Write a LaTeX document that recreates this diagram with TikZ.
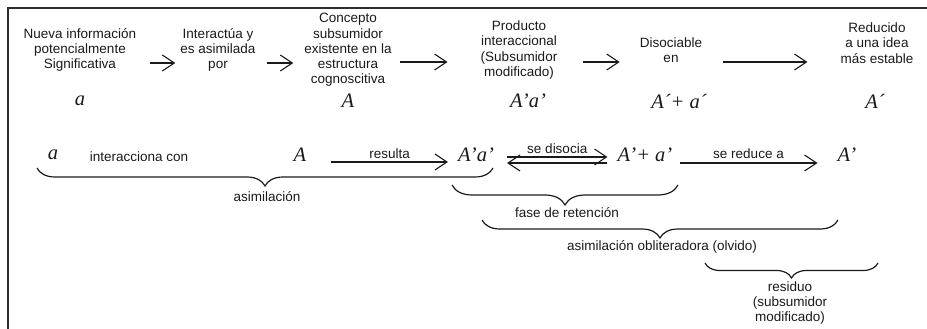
\documentclass[tikz,border=0pt]{standalone}
\usepackage{fontspec}
\setmainfont{Liberation Sans}
\newfontfamily\symfont{Liberation Serif}
\usepackage{xcolor}
\definecolor{diagram-ink}{HTML}{1A1A1A}
\definecolor{diagram-frame}{HTML}{2E2E2E}
\usetikzlibrary{arrows.meta,decorations.pathreplacing}

\tikzset{
    txt/.style={font=\fontsize{13.5}{15.3}\selectfont, text=diagram-ink, align=center, inner sep=0pt},
    sym/.style={font=\fontsize{20.5}{22}\selectfont\symfont\itshape, text=diagram-ink, inner sep=0pt},
    arr/.style={draw=diagram-ink, line width=1.1pt, -{Straight Barb[length=12pt,width=16pt]}},
    brc/.style={draw=diagram-ink, line width=1.2pt, decorate, decoration={brace, mirror, amplitude=#1}},
}

\begin{document}
\begin{tikzpicture}[x=1pt, y=-1pt]

    \useasboundingbox (0,0) rectangle (927,329);

    % Frame
    \draw[diagram-frame, line width=2pt] (8,329) -- (8,8) -- (927,8);

    % Top row: stages
    \node[txt] (nueva) at (80,50) {Nueva información\\potencialmente\\Significativa};
    \node[txt] (interact) at (218,50) {Interactúa y\\es asimilada\\por};
    \node[txt] (concepto) at (348,50) {Concepto\\subsumidor\\existente en la\\estructura\\cognoscitiva};
    \node[txt] (producto) at (519,50) {Producto\\interaccional\\(Subsumidor\\modificado)};
    \node[txt] (disociable) at (671,50) {Disociable\\en};
    \node[txt] (reducido) at (877,43) {Reducido\\a una idea\\más estable};

    \draw[arr] ([xshift=14pt,yshift=-13pt]nueva.east) -- ([xshift=-5pt,yshift=-13pt]interact.west);
    \draw[arr] ([xshift=11pt,yshift=-13pt]interact.east) -- ([xshift=-11pt,yshift=-13pt]concepto.west);
    \draw[arr] ([xshift=8pt,yshift=-12pt]concepto.east) -- ([xshift=-33pt,yshift=-12pt]producto.west);
    \draw[arr] ([xshift=26pt,yshift=-12pt]producto.east) -- ([xshift=-20pt,yshift=-12pt]disociable.west);
    \draw[arr] ([xshift=21pt,yshift=-12pt]disociable.east) -- ([xshift=-33pt,yshift=-19pt]reducido.west);

    % Top row: symbols
    \node[sym] (sa) at (80,101) {a};
    \node[sym] (sA) at (348,101) {A};
    \node[sym] (sapa) at (528,101) {A’a’};
    \node[sym] (sapb) at (679,101) {A´+ a´};
    \node[sym] (sAp) at (875,101) {A´};

    % Bottom row
    \node[sym] (ba) at (53,155) {a};
    \node[txt] (interacciona) at (139,157) {interacciona con};
    \node[sym] (bA) at (300,155) {A};
    \node[sym] (bapa) at (476,155) {A’a’};
    \node[sym] (bapb) at (645,155) {A’+ a’};
    \node[sym] (bAp) at (847,155) {A’};

    \draw[arr] ([xshift=25pt,yshift=-7pt]bA.east) -- node[txt, above=2.5pt] (resulta) {resulta} ([xshift=-10pt,yshift=-7pt]bapa.west);
    \draw[arr] ([xshift=13pt,yshift=-2pt]bapa.east) -- node[txt, above=2.5pt] (disocia) {se disocia} ([xshift=-10pt,yshift=-2pt]bapb.west);
    \draw[arr] ([xshift=-10pt,yshift=-8pt]bapb.west) -- ([xshift=13pt,yshift=-8pt]bapa.east);
    \draw[arr] ([xshift=7pt,yshift=-8pt]bapb.east) -- node[txt, above=4pt] (reduce) {se reduce a} ([xshift=-20pt,yshift=-8pt]bAp.west);

    % Braces
    \draw[brc=18pt] (37,168) -- (493,168);
    \node[txt] (asimilacion) at (267,197) {asimilación};

    \draw[brc=20pt] (452,185) -- (678,185);
    \node[txt] (retencion) at (567,213) {fase de retención};

    \draw[brc=18pt] (482,220) -- (838,220);
    \node[txt] (olvido) at (662,247) {asimilación obliteradora (olvido)};

    \draw[brc=15pt] (705,263) -- (878,263);
    \node[txt] (residuo) at (790,303) {residuo\\(subsumidor\\modificado)};

\end{tikzpicture}
\end{document}
